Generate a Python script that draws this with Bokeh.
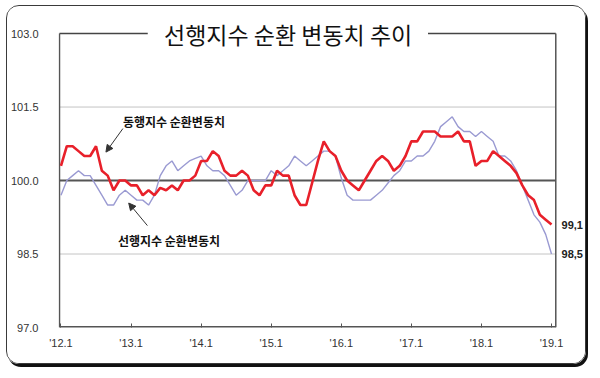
from bokeh.plotting import figure
from bokeh.models import (FixedTicker, Label, Arrow, NormalHead, Range1d,
                          PrintfTickFormatter)
from bokeh.embed import file_html
from bokeh.resources import INLINE

# ---------------- data ----------------
months = list(range(85))  # 2012.1 .. 2019.1, monthly

coincident = [100.3, 100.7, 100.7, 100.6, 100.5, 100.5, 100.7, 100.2, 100.1, 99.8,
              100.0, 100.0, 99.9, 99.9, 99.7, 99.8, 99.7, 99.85, 99.8, 99.9,
              99.8, 100.0, 100.0, 100.1, 100.4, 100.4, 100.6, 100.5, 100.2, 100.1,
              100.1, 100.2, 100.1, 99.8, 99.7, 99.9, 99.9, 100.2, 100.1, 100.1,
              99.7, 99.5, 99.5, 99.95, 100.4, 100.8, 100.6, 100.5, 100.2, 100.0,
              99.9, 99.8, 100.0, 100.2, 100.4, 100.5, 100.4, 100.2, 100.3, 100.5,
              100.8, 100.8, 101.0, 101.0, 101.0, 100.9, 100.9, 100.9, 101.0, 100.8,
              100.8, 100.3, 100.4, 100.4, 100.6, 100.5, 100.4, 100.3, 100.15, 99.9,
              99.7, 99.6, 99.3, 99.2, 99.1]

leading = [99.7, 100.0, 100.1, 100.2, 100.1, 100.1, 99.9, 99.7, 99.5, 99.5,
           99.7, 99.8, 99.7, 99.6, 99.6, 99.5, 99.7, 100.1, 100.3, 100.4,
           100.2, 100.3, 100.4, 100.45, 100.5, 100.3, 100.2, 100.2, 100.1, 99.9,
           99.7, 99.8, 100.0, 100.0, 100.0, 100.0, 100.2, 100.1, 100.2, 100.3,
           100.5, 100.4, 100.3, 100.4, 100.5, 100.6, 100.6, 100.5, 100.05, 99.7,
           99.6, 99.6, 99.6, 99.6, 99.7, 99.8, 99.95, 100.1, 100.2, 100.4,
           100.4, 100.5, 100.5, 100.6, 100.8, 101.1, 101.2, 101.3, 101.1, 101.0,
           101.0, 100.9, 101.0, 100.9, 100.8, 100.5, 100.5, 100.4, 100.2, 99.9,
           99.6, 99.3, 99.15, 98.9, 98.5]

tick_pos = [0, 12, 24, 36, 48, 60, 72, 84]
tick_labels = ["'12.1", "'13.1", "'14.1", "'15.1", "'16.1", "'17.1", "'18.1", "'19.1"]
y_ticks = [97.0, 98.5, 100.0, 101.5, 103.0]
grid_levels = [98.5, 101.5]
zero_level = 100.0

title_text = "선행지수 순환 변동치 추이"
coin_name = "동행지수 순환변동치"
lead_name = "선행지수 순환변동치"

# ---------------- layout constants ----------------
y_lo, y_hi = y_ticks[0], y_ticks[-1]
box_left, box_right = -0.254, 84.73          # drawn chart box (in month units)
title_gap = (14.86, 62.85)                   # gap in top line behind the title

p = figure(width=580, height=359, output_backend="svg", toolbar_location=None,
           x_range=Range1d(-0.424, 89.99), y_range=Range1d(y_lo, 103.45),
           min_border_left=46, min_border_right=1, min_border_top=5,
           min_border_bottom=38, title=None)
p.outline_line_color = None
p.background_fill_color = "white"
p.border_fill_color = "white"
p.styles = {"border": "1px solid #3a3a3a", "border-radius": "13px",
            "box-shadow": "2px 3px 0 #111", "overflow": "hidden",
            "margin": "5px 0 0 6px"}

p.xgrid.visible = False
p.ygrid.visible = False

# axes
p.yaxis.ticker = FixedTicker(ticks=y_ticks)
p.yaxis.formatter = PrintfTickFormatter(format="%.1f")
p.yaxis.major_tick_line_color = None
p.yaxis.minor_tick_line_color = None
p.yaxis.axis_line_color = None
p.yaxis.major_label_standoff = 14
p.yaxis.major_label_text_font = "Liberation Sans"
p.yaxis.major_label_text_font_size = "11px"
p.yaxis.major_label_text_color = "#333333"

p.xaxis.ticker = FixedTicker(ticks=tick_pos)
p.xaxis.major_label_overrides = {t: l for t, l in zip(tick_pos, tick_labels)}
p.xaxis.major_tick_in = 4
p.xaxis.major_tick_out = 0
p.xaxis.major_tick_line_color = "#555555"
p.xaxis.minor_tick_line_color = None
p.xaxis.axis_line_color = None
p.xaxis.major_label_standoff = 9
p.xaxis.major_label_text_font = "Liberation Sans"
p.xaxis.major_label_text_font_size = "11px"
p.xaxis.major_label_text_color = "#333333"

# chart box, grid and reference lines
p.segment(x0=[box_left] * len(grid_levels), x1=[box_right] * len(grid_levels),
          y0=grid_levels, y1=grid_levels, line_color="#c4c4c4", line_width=1)
p.segment(x0=[box_left], x1=[box_right], y0=[zero_level], y1=[zero_level],
          line_color="#555555", line_width=2)
p.segment(x0=[box_left, title_gap[1]], x1=[title_gap[0], box_right],
          y0=[y_hi, y_hi], y1=[y_hi, y_hi], line_color="#444444", line_width=1.5)
p.segment(x0=[box_left, box_right], x1=[box_left, box_right],
          y0=[y_lo, y_lo], y1=[y_hi, y_hi], line_color="#555555", line_width=1.5)
p.segment(x0=[box_left], x1=[box_right], y0=[y_lo], y1=[y_lo],
          line_color="#555555", line_width=3)

# series
p.line(months, leading, line_color="#9a9ad2", line_width=1.4)
p.line(months, coincident, line_color="#e8202a", line_width=2.6)

# end-value labels
for series in (coincident, leading):
    p.add_layout(Label(x=months[-1], y=series[-1], x_offset=10,
                       text=f"{series[-1]:.1f}".replace(".", ","),
                       text_font="Liberation Sans", text_font_style="bold",
                       text_font_size="11px", text_color="#222222",
                       text_baseline="middle", text_align="left"))

# series name annotations with arrows
p.add_layout(Label(x=10.6, y=101.21, text=coin_name, text_font="Noto Sans CJK KR",
                   text_font_style="bold", text_font_size="12px",
                   text_color="#111111", text_baseline="middle", text_align="left"))
p.add_layout(Label(x=9.75, y=98.78, text=lead_name, text_font="Noto Sans CJK KR",
                   text_font_style="bold", text_font_size="12px",
                   text_color="#111111", text_baseline="middle", text_align="left"))
p.add_layout(Arrow(end=NormalHead(size=7, fill_color="#333333", line_color="#333333"),
                   x_start=10.6, y_start=101.06, x_end=7.7, y_end=100.58,
                   line_color="#333333", line_width=1))
p.add_layout(Arrow(end=NormalHead(size=7, fill_color="#333333", line_color="#333333"),
                   x_start=14.8, y_start=99.08, x_end=11.6, y_end=99.54,
                   line_color="#333333", line_width=1))

# title sitting on the top line
p.add_layout(Label(x=38.9, y=y_hi, text=title_text, text_font="Noto Sans CJK KR",
                   text_font_size="23px", text_color="#111111",
                   text_baseline="middle", text_align="center"))

open("out.html", "w").write(file_html(p, INLINE))
